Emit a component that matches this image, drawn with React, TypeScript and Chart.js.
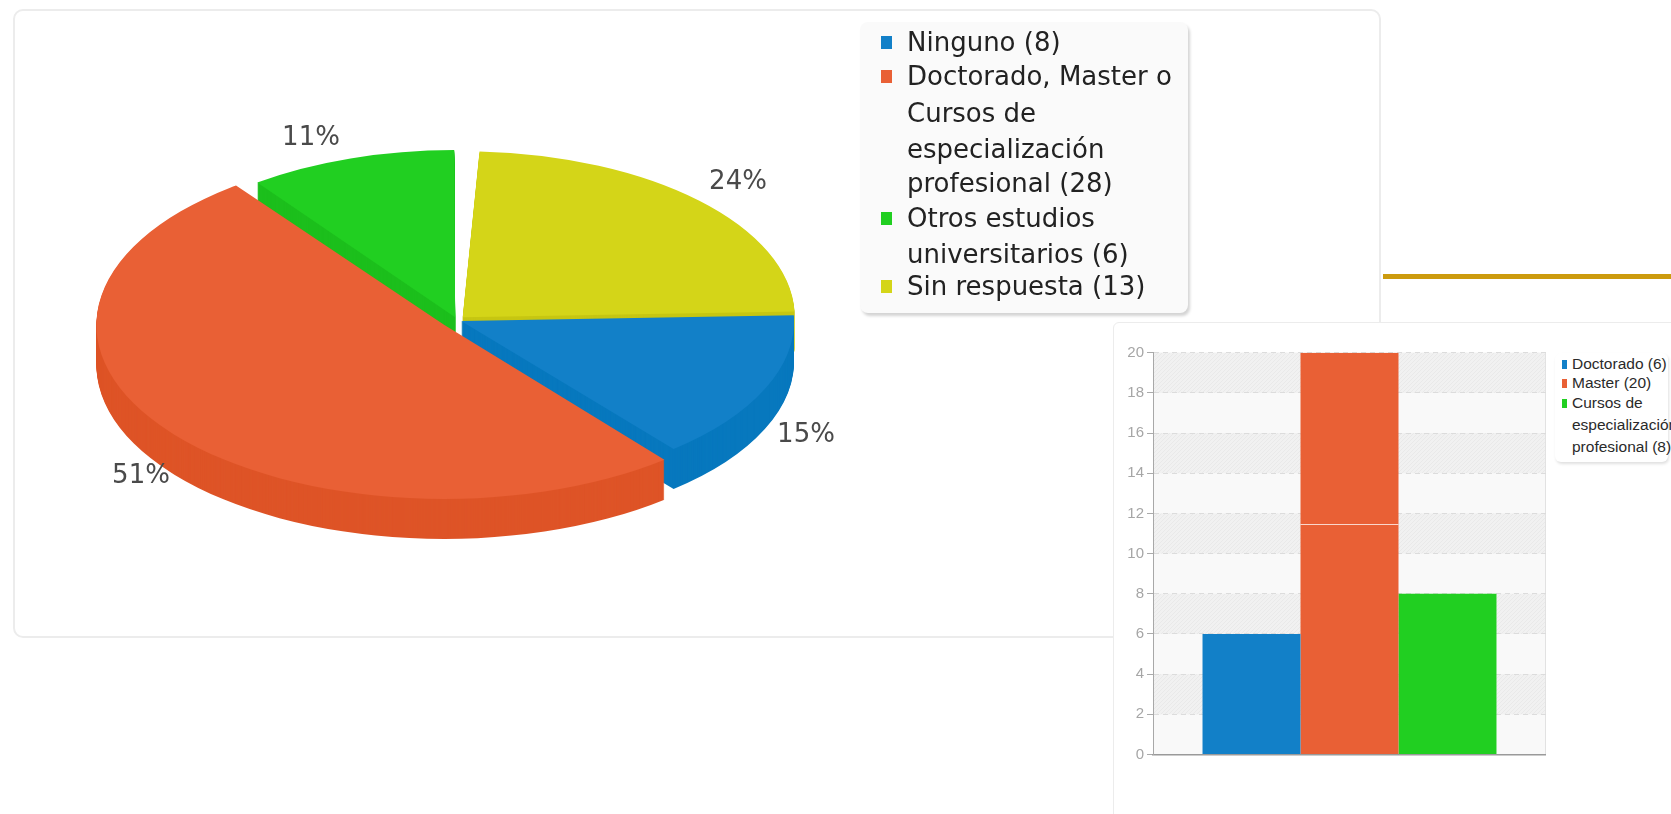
import React, { useEffect, useRef } from "react";
import { Chart, registerables } from "chart.js";

Chart.register(...registerables);

// ---------- data ----------
const pieCategories = ["Ninguno", "Doctorado, Master o Cursos de especialización profesional", "Otros estudios universitarios", "Sin respuesta"];
const pieValues = [8, 28, 6, 13];
const pieColors = ["#1280C8", "#E96035", "#21CF21", "#D4D518"];
const pieSideColors = ["#0778BE", "#DE5427", "#1CBF1C", "#C6C612"];
const pieOffsets = [18, 64, 24, 32];
const pieEndTrimDegrees = [0, 0, 3, 0];
const pieDrawOrder = [3, 2, 0, 1];
const pieLegendLines = [
  { line: "Ninguno (8)", swatch: 0 },
  { line: "Doctorado, Master o", swatch: 1 },
  { line: "Cursos de" },
  { line: "especialización" },
  { line: "profesional (28)" },
  { line: "Otros estudios", swatch: 2 },
  { line: "universitarios (6)" },
  { line: "Sin respuesta (13)", swatch: 3 },
];

const barSeries = ["Doctorado", "Master", "Cursos de especialización profesional"];
const barValues = [6, 20, 8];
const barColors = ["#1280C8", "#E96035", "#21CF21"];
const barSeamValue = 11.45;
const barBands = [[2, 4], [6, 8], [10, 12], [14, 16], [18, 20]];
const barLegendLines = [
  { line: "Doctorado (6)", swatch: 0 },
  { line: "Master (20)", swatch: 1 },
  { line: "Cursos de", swatch: 2 },
  { line: "especialización" },
  { line: "profesional (8)" },
];

// ---------- layout ----------
const PIE_SQUASH = 0.5;
const PIE_DEPTH = 40;
const PIE_LABEL_POS = [[806, 435], [141, 476], [311, 138], [738, 182]];
const PIE_LEGEND_Y = [42, 76, 113, 149, 183, 218, 254, 286];
const BAR_LEGEND_Y = [364, 383, 403, 425, 447];
const PCT_FONT = "26px 'DejaVu Sans'";

const pie3dPlugin = {
  id: "pie3d",
  beforeDatasetDraw(chart: any, args: any) {
    const ctx = chart.ctx;
    const arcs = args.meta.data;
    const cx = arcs[0].x;
    const cy = arcs[0].y;
    ctx.save();
    for (const i of pieDrawOrder) {
      const arc = arcs[i];
      const trim = (pieEndTrimDegrees[i] * Math.PI) / 180;
      const top = Object.create(arc);
      top.endAngle = arc.endAngle - trim;
      const side = Object.create(arc);
      side.endAngle = top.endAngle;
      side.options = { ...arc.options, backgroundColor: pieSideColors[i] };
      for (let d = PIE_DEPTH; d >= 0; d--) {
        ctx.save();
        ctx.translate(cx, cy + d);
        ctx.scale(1, PIE_SQUASH);
        ctx.translate(-cx, -cy);
        (d === 0 ? top : side).draw(ctx);
        ctx.restore();
      }
    }
    ctx.restore();
    return false;
  },
  afterDraw(chart: any) {
    const ctx = chart.ctx;
    const total = pieValues.reduce((a, b) => a + b, 0);
    ctx.save();
    ctx.font = PCT_FONT;
    ctx.fillStyle = "#4a4a4a";
    ctx.textAlign = "center";
    ctx.textBaseline = "middle";
    pieValues.forEach((v, i) => {
      ctx.fillText(`${Math.round((v / total) * 100)}%`, PIE_LABEL_POS[i][0], PIE_LABEL_POS[i][1]);
    });
    ctx.restore();
  },
};

function makeHatch(ctx: CanvasRenderingContext2D) {
  const c = document.createElement("canvas");
  c.width = 4;
  c.height = 4;
  const g = c.getContext("2d")!;
  g.fillStyle = "#f1f1f1";
  g.fillRect(0, 0, 4, 4);
  g.fillStyle = "#e9e9e9";
  for (let i = 0; i < 4; i++) g.fillRect(i, 3 - i, 1, 1);
  return ctx.createPattern(c, "repeat")!;
}

const barBackPlugin = {
  id: "barBack",
  beforeDraw(chart: any) {
    const { ctx, chartArea: a, scales } = chart;
    ctx.save();
    ctx.fillStyle = "#f9f9f9";
    ctx.fillRect(a.left, a.top, a.right - a.left, a.bottom - a.top);
    ctx.fillStyle = makeHatch(ctx);
    for (const [lo, hi] of barBands) {
      const y0 = scales.y.getPixelForValue(hi);
      const y1 = scales.y.getPixelForValue(lo);
      ctx.fillRect(a.left, y0, a.right - a.left, y1 - y0);
    }
    ctx.strokeStyle = "#e2e2e2";
    ctx.beginPath();
    ctx.moveTo(a.right - 0.5, a.top);
    ctx.lineTo(a.right - 0.5, a.bottom);
    ctx.stroke();
    ctx.restore();
  },
  afterDatasetsDraw(chart: any) {
    const { ctx, scales } = chart;
    const bar = chart.getDatasetMeta(1).data[0];
    const y = Math.round(scales.y.getPixelForValue(barSeamValue)) + 0.5;
    ctx.save();
    ctx.strokeStyle = "rgba(255,255,255,0.75)";
    ctx.lineWidth = 1;
    ctx.beginPath();
    ctx.moveTo(bar.x - bar.width / 2, y);
    ctx.lineTo(bar.x + bar.width / 2, y);
    ctx.stroke();
    ctx.restore();
  },
};

const abs = (left: number, top: number, width: number, height: number): React.CSSProperties => ({
  position: "absolute",
  left,
  top,
  width,
  height,
  boxSizing: "border-box",
});

export default function App() {
  const pieRef = useRef<HTMLCanvasElement>(null);
  const barRef = useRef<HTMLCanvasElement>(null);

  useEffect(() => {
    const pie = new Chart(pieRef.current!, {
      type: "pie",
      data: {
        labels: pieCategories,
        datasets: [{ data: pieValues, backgroundColor: pieColors, offset: pieOffsets, borderWidth: 0 }],
      },
      options: {
        responsive: false,
        animation: false,
        rotation: 88,
        radius: 332,
        plugins: { legend: { display: false }, tooltip: { enabled: false } },
      },
      plugins: [pie3dPlugin],
    } as any);

    const bar = new Chart(barRef.current!, {
      type: "bar",
      data: {
        labels: [""],
        datasets: barSeries.map((name, i) => ({
          label: name,
          data: [barValues[i]],
          backgroundColor: barColors[i],
          borderWidth: 0,
          barPercentage: 1,
          categoryPercentage: 0.748,
        })),
      },
      options: {
        responsive: false,
        animation: false,
        layout: { padding: { top: 30.7, bottom: 37.5, left: 0, right: 0 } },
        plugins: { legend: { display: false }, tooltip: { enabled: false } },
        scales: {
          x: {
            grid: { display: false, drawTicks: false },
            border: { color: "#9a9a9a", width: 1.5 },
            ticks: { display: false },
          },
          y: {
            min: 0,
            max: 20,
            afterFit(scale: any) {
              scale.width = 40;
            },
            grid: { color: "#dcdcdc", tickColor: "#aaaaaa", tickLength: 6, drawTicks: true },
            border: { color: "#a8a8a8", width: 1, dash: [5, 4] },
            ticks: {
              stepSize: 2,
              padding: 3,
              color: "#a6a6a6",
              font: { family: "'Liberation Sans Narrow', 'Liberation Sans'", size: 15 },
            },
          },
        },
      },
      plugins: [barBackPlugin],
    } as any);

    return () => {
      pie.destroy();
      bar.destroy();
    };
  }, []);

  return (
    <div style={{ position: "fixed", left: 0, top: 0, width: 1671, height: 814, overflow: "hidden", background: "#fff" }}>
      <div style={{ ...abs(13, 9, 1368, 629), border: "2px solid #ececec", borderRadius: 10, background: "#fff" }} />
      <canvas ref={pieRef} width={914} height={640} style={{ position: "absolute", left: 0, top: 0, display: "block" }} />
      <div
        style={{
          ...abs(860, 22, 328, 291),
          background: "#fafafa",
          borderRadius: 8,
          boxShadow: "2px 3px 3px #d4d4d4",
        }}
      />
      {pieLegendLines.map((item, i) => (
        <React.Fragment key={i}>
          {item.swatch !== undefined && (
            <div style={{ ...abs(881, PIE_LEGEND_Y[i] - 6, 11, 13), background: pieColors[item.swatch] }} />
          )}
          <div
            style={{
              position: "absolute",
              left: 907,
              top: PIE_LEGEND_Y[i],
              transform: "translateY(-50%)",
              font: "26px 'DejaVu Sans'",
              color: "#222",
              whiteSpace: "nowrap",
              lineHeight: 1,
            }}
          >
            {item.line}
          </div>
        </React.Fragment>
      ))}
      <div style={{ ...abs(1383, 274, 288, 5), background: "#CC9B0E" }} />
      <div
        style={{
          ...abs(1113, 322, 600, 600),
          background: "#fff",
          border: "1.5px solid #ececec",
          borderRadius: 6,
        }}
      />
      <canvas ref={barRef} width={433} height={470} style={{ position: "absolute", left: 1113, top: 322, display: "block" }} />
      <div
        style={{
          ...abs(1555, 353, 113, 109),
          background: "#fff",
          borderRadius: 6,
          boxShadow: "1px 2px 3px #e0e0e0",
        }}
      />
      {barLegendLines.map((item, i) => (
        <React.Fragment key={i}>
          {item.swatch !== undefined && (
            <div style={{ ...abs(1562, BAR_LEGEND_Y[i] - 4, 5, 9), background: barColors[item.swatch] }} />
          )}
          <div
            style={{
              position: "absolute",
              left: 1572,
              top: BAR_LEGEND_Y[i],
              transform: "translateY(-50%)",
              font: "15.5px 'Liberation Sans Narrow', 'Liberation Sans'",
              color: "#2a2a2a",
              whiteSpace: "nowrap",
              lineHeight: 1,
            }}
          >
            {item.line}
          </div>
        </React.Fragment>
      ))}
    </div>
  );
}
